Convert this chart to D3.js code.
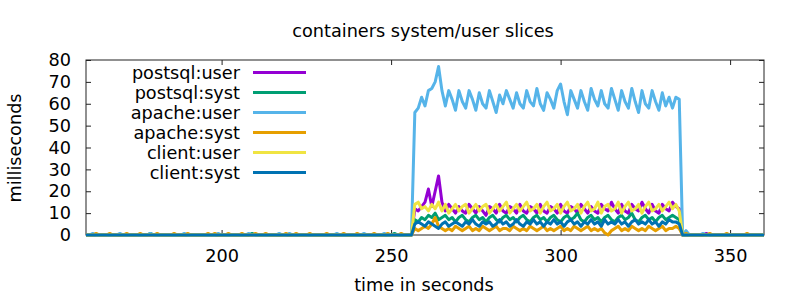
<!DOCTYPE html>
<html>
<head>
<meta charset="utf-8">
<script src="https://cdn.jsdelivr.net/npm/d3@7/dist/d3.min.js"></script>
<style>
	body { margin: 0; background: #fff; }
	svg { display: block; font-family: "DejaVu Sans", sans-serif; }
</style>
</head>
<body>
<svg id="chart" width="800" height="300"></svg>
<script>
// one sample per second, first sample at t = 160 s
var firstSecond = 160;

var seriesNames = ["postsql:user", "postsql:syst", "apache:user", "apache:syst", "client:user", "client:syst"];

var postsqlUser = [
	0, 0, 0, 0, 0, 0, 0, 0, 0, 0,          // 160
	0, 0, 0, 0, 0, 0, 0, 0, 0, 0,          // 170
	0, 0, 0, 0, 0, 0, 0, 0, 0, 0,          // 180
	0, 0, 0, 0, 0, 0, 0, 0, 0, 0,          // 190
	0, 0, 0, 0, 0, 0, 0, 0, 0, 0,          // 200
	0, 0, 0, 0, 0, 0, 0, 0, 0, 0,          // 210
	0, 0, 0, 0, 0, 0, 0, 0, 0, 0,          // 220
	0, 0, 0, 0, 0, 0, 0, 0, 0, 0,          // 230
	0, 0, 0, 0, 0, 0, 0, 0, 0, 0,          // 240
	0, 0, 0, 0, 0, 0, 0, 12, 11, 13,       // 250
	15, 21, 13, 20, 27, 15, 11, 14, 12, 10,  // 260
	13, 11, 10, 14, 12, 10, 13, 11, 9, 13,   // 270
	12, 10, 14, 11, 10, 13, 12, 10, 14, 11,  // 280
	10, 13, 12, 10, 14, 11, 10, 13, 12, 10,  // 290
	14, 11, 10, 13, 12, 10, 14, 12, 10, 13,  // 300
	11, 10, 14, 12, 11, 15, 12, 10, 14, 11,  // 310
	10, 14, 12, 11, 15, 12, 10, 14, 11, 10,  // 320
	14, 12, 11, 15, 13, 12, 0, 0, 0, 0,      // 330
	0, 0, 0, 0.7, 0, 0, 0, 0, 0, 0,          // 340
	0, 0, 0, 0, 0, 0, 0, 0, 0, 0,            // 350
	0
];

var postsqlSyst = [
	0, 0, 0, 0, 0, 0, 0, 0, 0, 0,
	0, 0, 0, 0, 0, 0, 0, 0, 0, 0.7,
	0, 0, 0, 0, 0, 0, 0, 0, 0, 0,
	0, 0, 0, 0, 0, 0, 0, 0, 0, 0,
	0, 0, 0, 0, 0, 0, 0, 0, 0, 0.7,
	0, 0, 0, 0, 0, 0, 0, 0, 0, 0,
	0, 0, 0, 0, 0, 0, 0, 0, 0, 0,
	0, 0, 0, 0, 0, 0, 0, 0, 0, 0,
	0, 0, 0, 0, 0, 0, 0, 0, 0, 0,
	0, 0.7, 0, 0, 0, 0, 0, 7, 6, 8,
	7, 9, 8, 10, 7, 8, 9, 7, 8, 6,
	8, 9, 7, 6, 8, 9, 7, 8, 6, 8,
	9, 7, 6, 8, 9, 7, 8, 6, 8, 9,
	7, 6, 8, 9, 7, 8, 6, 8, 9, 7,
	6, 8, 9, 7, 8, 10, 7, 6, 8, 9,
	7, 8, 6, 8, 9, 7, 6, 8, 9, 7,
	8, 10, 7, 6, 8, 9, 7, 8, 6, 8,
	9, 7, 8, 9, 8, 7, 0, 0, 0, 0,
	0, 0, 0, 0, 0, 0, 0, 0, 0, 0,
	0, 0, 0, 0, 0, 0, 0, 0, 0, 0,
	0
];

var apacheUser = [
	0, 0, 0.7, 0, 0, 0, 0, 0, 0, 0,
	0.7, 0, 0, 0, 0, 0, 0, 0, 0, 0.7,
	0, 0, 0, 0, 0, 0, 0, 0, 0, 0.7,
	0, 0, 0, 0, 0, 0, 0, 0, 0, 0.7,
	0, 0, 0, 0, 0, 0, 0, 0, 0.7, 0,
	0, 0, 0, 0, 0, 0, 0, 0.7, 0, 0,
	0.7, 0, 0, 0, 0, 0, 0, 0, 0, 0,
	0, 0, 0, 0, 0.7, 0, 0, 0, 0, 0,
	0, 0, 0.7, 0, 0, 0, 0, 0, 0.7, 0,
	0, 0, 0, 0, 0, 0, 0, 56, 58, 63,
	59, 66, 67, 70, 77, 66, 59, 66, 62, 57,
	66, 61, 58, 66, 62, 57, 65, 60, 58, 66,
	61, 56, 64, 60, 66, 62, 58, 65, 60, 58,
	66, 61, 59, 67, 60, 57, 65, 62, 58, 66,
	69, 61, 55, 66, 62, 58, 66, 61, 57, 67,
	62, 59, 66, 60, 58, 67, 62, 57, 66, 61,
	58, 67, 61, 56, 66, 60, 58, 66, 61, 57,
	65, 59, 63, 58, 63, 62, 0, 2, 0, 0,
	0, 0, 0.7, 0, 0, 0, 0, 0, 0, 0,
	0, 0, 0, 0, 0, 0, 0, 0, 0, 0,
	0
];

var apacheSyst = [
	0, 0, 0, 0.7, 0, 0, 0, 0.7, 0, 0,
	0, 0, 0.7, 0, 0, 0, 0.7, 0, 0, 0,
	0, 0.7, 0, 0, 0, 0, 0.7, 0, 0, 0,
	0.7, 0, 0, 0, 0, 0, 0.7, 0, 0.7, 0,
	0, 0, 0.7, 0, 0, 0, 0.7, 0, 0, 0,
	0.7, 0, 0, 0.7, 0, 0, 0, 0, 0, 0.7,
	0, 0, 0.7, 0, 0, 0, 0.7, 0, 0, 0,
	0, 0.7, 0, 0, 0, 0, 0.7, 0, 0, 0,
	0.7, 0, 0, 0, 0, 0.7, 0, 0, 0, 0.7,
	0, 0, 0, 0.7, 0, 0, 0, 3, 2, 3,
	4, 3, 5, 8, 4, 3, 2, 3, 2, 4,
	3, 2, 3, 4, 2, 3, 2, 4, 3, 2,
	3, 4, 2, 3, 3, 2, 4, 3, 2, 3,
	2, 4, 3, 2, 3, 4, 2, 3, 2, 3,
	4, 2, 3, 2, 4, 3, 2, 3, 4, 2,
	3, 2, 3, 1, 0, 2, 3, 4, 2, 3,
	2, 4, 3, 2, 3, 2, 4, 3, 2, 3,
	4, 2, 3, 3, 4, 3, 0, 0.7, 0, 0,
	0, 0, 0, 0, 0.7, 0, 0, 0, 0, 0.7,
	0, 0, 0, 0, 0, 0.7, 0, 0, 0, 0,
	0
];

var clientUser = [
	0, 0, 0, 0, 0, 0, 0, 0, 0, 0,
	0, 0, 0, 0, 0, 0, 0, 0, 0, 0,
	0, 0, 0, 0, 0, 0, 0, 0, 0, 0,
	0, 0, 0, 0, 0, 0, 0, 0, 0, 0,
	0, 0, 0, 0, 0, 0, 0, 0, 0, 0,
	0, 0, 0, 0, 0, 0, 0, 0, 0, 0,
	0, 0, 0, 0, 0, 0, 0, 0, 0, 0,
	0, 0, 0, 0, 0, 0, 0, 0, 0, 0,
	0, 0, 0, 0, 0, 0, 0, 0, 0, 0,
	0, 0, 0, 0, 0, 0, 0, 14, 15, 12,
	13, 11, 14, 12, 15, 11, 14, 10, 12, 14,
	11, 13, 14, 10, 12, 14, 11, 13, 14, 10,
	12, 14, 11, 13, 15, 10, 12, 14, 11, 13,
	15, 11, 12, 14, 10, 13, 15, 11, 12, 14,
	10, 13, 15, 11, 12, 14, 10, 13, 15, 11,
	12, 15, 10, 13, 14, 11, 12, 15, 10, 13,
	15, 11, 12, 14, 10, 13, 15, 11, 12, 14,
	11, 13, 15, 12, 14, 11, 0, 0, 0, 0,
	0, 0, 0, 0, 0, 0, 0, 0, 0, 0,
	0, 0, 0, 0, 0, 0, 0, 0, 0, 0,
	0
];

var clientSyst = [
	0, 0, 0, 0, 0, 0, 0, 0, 0, 0,
	0, 0, 0, 0, 0, 0, 0, 0, 0, 0,
	0, 0, 0, 0, 0, 0, 0, 0, 0, 0,
	0, 0, 0, 0, 0, 0, 0, 0, 0, 0,
	0, 0, 0, 0, 0, 0, 0, 0, 0, 0,
	0, 0, 0, 0, 0, 0, 0, 0, 0, 0,
	0, 0, 0, 0, 0, 0, 0, 0, 0, 0,
	0, 0, 0, 0, 0, 0, 0, 0, 0, 0,
	0, 0, 0, 0, 0, 0, 0, 0, 0, 0,
	0, 0, 0, 0, 0, 0, 0, 5, 6, 5,
	4, 6, 5, 4, 3, 5, 6, 4, 5, 6,
	5, 4, 6, 5, 7, 5, 4, 6, 5, 6,
	4, 5, 7, 5, 6, 4, 5, 7, 5, 4,
	6, 5, 7, 5, 6, 4, 6, 5, 7, 5,
	6, 4, 6, 7, 5, 6, 4, 6, 5, 7,
	5, 6, 4, 7, 5, 6, 5, 7, 5, 6,
	4, 6, 7, 5, 6, 5, 7, 5, 6, 4,
	6, 5, 7, 6, 6, 5, 0, 0, 0, 0,
	0, 0, 0, 0, 0, 0, 0, 0, 0, 0,
	0, 0, 0, 0, 0, 0, 0, 0, 0, 0,
	0
];

var xTicks = [200, 250, 300, 350];
var yTicks = [0, 10, 20, 30, 40, 50, 60, 70, 80];

var allSeries = [postsqlUser, postsqlSyst, apacheUser, apacheSyst, clientUser, clientSyst];
var colors = ["#9400d3", "#009e73", "#56b4e9", "#e69f00", "#f0e442", "#0072b2"];

var fontSize = "17.7px";
var margin = {top: 60, right: 36, bottom: 65, left: 86};
var width = 800 - margin.left - margin.right;
var height = 300 - margin.top - margin.bottom;

var svg = d3.select("#chart");
var g = svg.append("g").attr("transform", "translate(" + margin.left + "," + margin.top + ")");

var x = d3.scaleLinear().domain([160, 360]).range([0, width]);
var y = d3.scaleLinear().domain([0, 80]).range([height, 0]);

var styleAxis = function (sel) {
	sel.select(".domain").remove();
	sel.selectAll(".tick line").attr("stroke", "#222");
	sel.selectAll(".tick text").attr("fill", "#000").style("font-size", fontSize).style("font-family", "DejaVu Sans, sans-serif");
};

// ticks point inward, mirrored on top and right like gnuplot
g.append("g")
	.call(d3.axisLeft(y).tickValues(yTicks).tickSize(-5).tickPadding(15))
	.call(styleAxis);
g.append("g").attr("transform", "translate(" + width + ",0)")
	.call(d3.axisRight(y).tickValues(yTicks).tickSize(-5).tickFormat(""))
	.call(styleAxis);
g.append("g").attr("transform", "translate(0," + height + ")")
	.call(d3.axisBottom(x).tickValues(xTicks).tickSize(-5).tickPadding(14))
	.call(styleAxis);
g.append("g")
	.call(d3.axisTop(x).tickValues(xTicks).tickSize(-5).tickFormat(""))
	.call(styleAxis);

g.append("rect")
	.attr("width", width).attr("height", height)
	.attr("fill", "none").attr("stroke", "#222").attr("stroke-width", 1);

var line = d3.line()
	.x(function (d, i) { return x(firstSecond + i); })
	.y(function (d) { return y(d); });

allSeries.forEach(function (values, k) {
	g.append("path")
		.attr("d", line(values))
		.attr("fill", "none")
		.attr("stroke", colors[k])
		.attr("stroke-width", 3)
		.attr("stroke-linejoin", "round");
});

// legend, top left inside the frame
var legend = svg.append("g");
seriesNames.forEach(function (name, k) {
	var ly = 72.5 + k * 20;
	legend.append("text")
		.attr("x", 240).attr("y", ly).attr("dy", "0.35em")
		.attr("text-anchor", "end")
		.style("font-size", fontSize)
		.text(name);
	legend.append("line")
		.attr("x1", 253).attr("x2", 306)
		.attr("y1", ly).attr("y2", ly)
		.attr("stroke", colors[k]).attr("stroke-width", 3);
});

svg.append("text")
	.attr("x", 423).attr("y", 36.5)
	.attr("text-anchor", "middle")
	.style("font-size", fontSize)
	.text("containers system/user slices");

svg.append("text")
	.attr("x", 424).attr("y", 291)
	.attr("text-anchor", "middle")
	.style("font-size", fontSize)
	.text("time in seconds");

svg.append("text")
	.attr("transform", "translate(21,148) rotate(-90)")
	.attr("text-anchor", "middle")
	.style("font-size", fontSize)
	.text("milliseconds");
</script>
</body>
</html>
